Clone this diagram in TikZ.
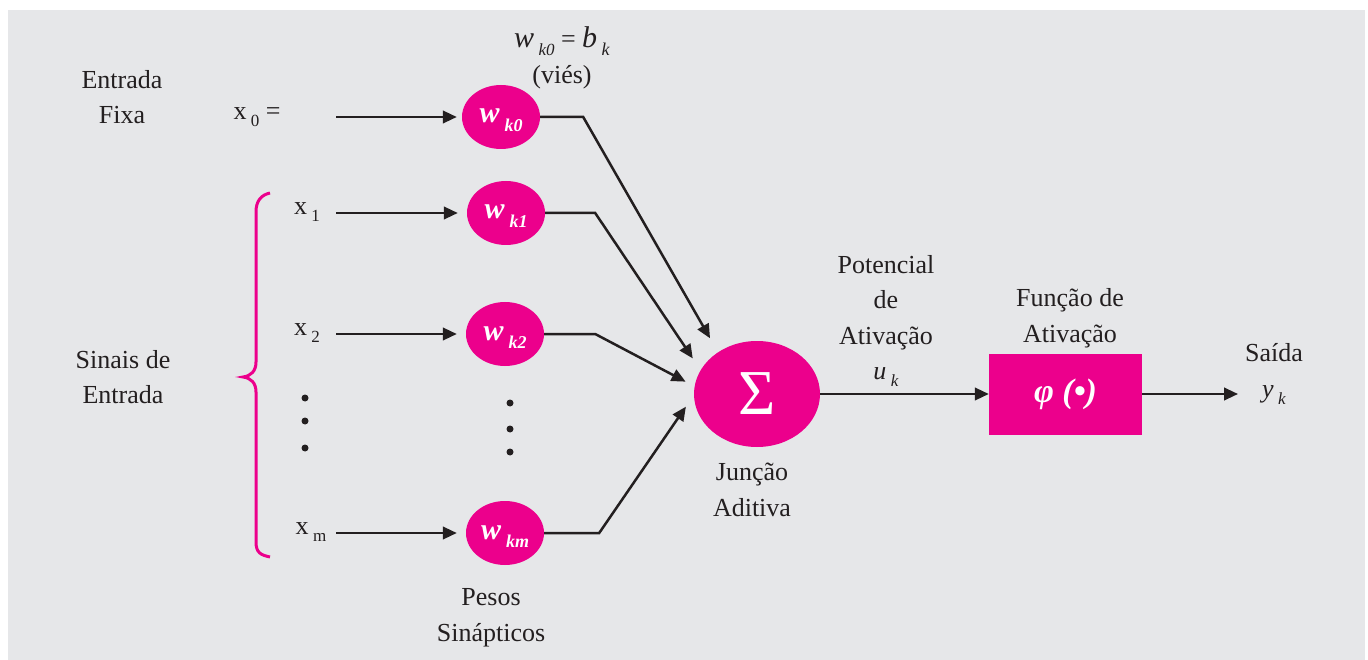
\documentclass[tikz,border=0pt]{standalone}
\usepackage{fontspec}
\setmainfont{Liberation Serif}
\usetikzlibrary{arrows.meta,shapes.geometric,calc}
\definecolor{bg}{HTML}{E6E7E9}
\definecolor{mag}{HTML}{EC008C}
\definecolor{ink}{HTML}{231F20}
\newcommand\lo[2][17]{\,\raisebox{-0.28em}{\fontsize{#1}{#1}\selectfont #2}}
\newcommand\wl[1]{\smash{\raisebox{-6pt}{\fontsize{30}{30}\selectfont\bfseries\itshape w\lo[18]{#1}}}}
\tikzset{
 lbl/.style={font=\fontsize{26}{35.5}\selectfont, align=center, text=ink, inner sep=0pt},
 wnode/.style={ellipse, fill=mag, minimum width=78pt, minimum height=64pt, inner sep=0pt, text=white},
 arr/.style={line width=2.5pt, draw=ink, -{Triangle[length=14pt,width=12.5pt]}},
 dotn/.style={circle, fill=ink, inner sep=0pt, minimum size=7pt},
}
\begin{document}
\begin{tikzpicture}[x=1pt,y=-1pt]
\useasboundingbox (0,0) rectangle (1368,660);
\fill[bg] (8,10) rectangle (1365,660);

% left labels
\node[lbl] (fixa) at (122,97) {Entrada\\Fixa};
\node[lbl] (sinais) at (123,377) {Sinais de\\Entrada};
\node[lbl] (x0) at (257,117) {x\lo{0} =};
\node[lbl] (x1) at (307,212) {x\lo{1}};
\node[lbl] (x2) at (307,333) {x\lo{2}};
\node[lbl] (xm) at (311,532) {x\lo{m}};

% brace
\draw[mag, line width=3pt] (270,193) .. controls (261,195) and (256,201) .. (256,212) -- (256,362)
  .. controls (256,371) and (251,376) .. (243,377) .. controls (251,378) and (256,383) .. (256,392)
  -- (256,542) .. controls (256,553) and (261,555) .. (270,557);

% dots
\node[dotn] (d1) at (305,398) {};
\node[dotn] (d2) at (305,421) {};
\node[dotn] (d3) at (305,448) {};
\node[dotn] (e1) at (510,403) {};
\node[dotn] (e2) at (510,429) {};
\node[dotn] (e3) at (510,452) {};

% weights
\node[lbl] (bias) at (562,58) {{\fontsize{30}{30}\selectfont\itshape w}\lo{\textit{k0}} = {\fontsize{30}{30}\selectfont\itshape b}\lo[18]{\textit{k}}\\(viés)};
\node[wnode] (wk0) at (501,117) {\wl{k0}};
\node[wnode] (wk1) at (506,213) {\wl{k1}};
\node[wnode] (wk2) at (505,334) {\wl{k2}};
\node[wnode] (wkm) at (505,533) {\wl{km}};
\node[lbl] (pesos) at (491,618) {Pesos\\Sinápticos};

% input arrows
\coordinate (s0) at (336,117);
\coordinate (s1) at (336,213);
\coordinate (s2) at (336,334);
\coordinate (sm) at (336,533);
\draw[arr, shorten >=5pt] (s0) -- (wk0);
\draw[arr, shorten >=9pt] (s1) -- (wk1);
\draw[arr, shorten >=9pt] (s2) -- (wk2);
\draw[arr, shorten >=9pt] (sm) -- (wkm);

% summing junction
\node[ellipse, fill=mag, minimum width=126pt, minimum height=106pt, inner sep=0pt, text=white] (sum) at (757,394) {\smash{\raisebox{-20pt}{\fontsize{64}{64}\selectfont Σ}}};
\node[lbl] (junc) at (752,490) {Junção\\Aditiva};

\draw[arr, shorten >=16pt] (wk0.east) -- ++(43,0) -- (sum.133);
\draw[arr, shorten >=14pt] (wk1.east) -- ++(50,0) -- (sum.157);
\draw[arr, shorten >=10pt] (wk2.east) -- ++(51,0) -- (sum.173);
\draw[arr, shorten >=14pt] (wkm.east) -- ++(55,0) -- (sum.181);

% activation
\node[lbl] (pot) at (886,321) {Potencial\\de\\Ativação\\\textit{u}\lo{\textit{k}}};
\node[fill=mag, minimum width=153pt, minimum height=81pt, inner sep=0pt, text=white] (phi) at (1065.5,394) {\smash{\raisebox{-8pt}{\fontsize{34}{34}\selectfont\bfseries\itshape φ (•)}}};
\node[lbl] (func) at (1070,318) {Função de\\Ativação};
\draw[arr] (sum) -- (phi);

% output
\coordinate (out) at (1238,394);
\draw[arr] (phi) -- (out);
\node[lbl] (said) at (1274,374) {Saída\\\textit{y}\lo{\textit{k}}};
\end{tikzpicture}
\end{document}
